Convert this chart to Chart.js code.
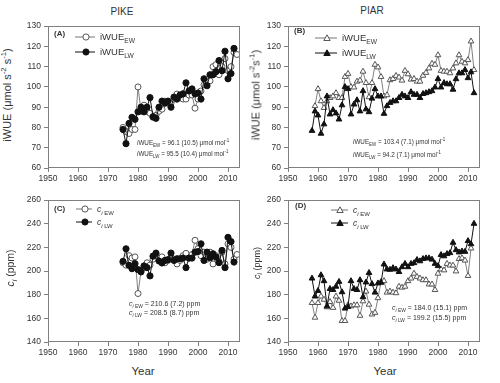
<!DOCTYPE html>
<html><head><meta charset="utf-8">
<script src="https://cdn.jsdelivr.net/npm/chart.js@4.4.1/dist/chart.umd.min.js"></script>
<style>
html,body{margin:0;padding:0;background:#fff;}
#wrap{position:relative;width:500px;height:383px;overflow:hidden;font-family:"Liberation Sans",Arial,sans-serif;color:#333;}
canvas{position:absolute;}
.t{position:absolute;white-space:nowrap;line-height:1;}
.rot{transform:translate(-50%,-50%) rotate(-90deg);}
.ctr{transform:translate(-50%,-50%);}
.lg{position:absolute;white-space:nowrap;font-size:9.5px;line-height:10px;height:10px;}
.lg svg{vertical-align:top;margin-right:5px;}
sub,sup{font-size:70%;line-height:0;}
.ann{font-size:6.3px;}
</style></head>
<body><div id="wrap">
<canvas id="cA" width="230" height="170" style="left:18px;top:18px"></canvas>
<canvas id="cB" width="230" height="170" style="left:258px;top:18px"></canvas>
<canvas id="cC" width="230" height="170" style="left:18px;top:192px"></canvas>
<canvas id="cD" width="230" height="170" style="left:258px;top:192px"></canvas>

<div class="t ctr" style="left:122px;top:12px;font-size:10px">PIKE</div>
<div class="t ctr" style="left:372px;top:11px;font-size:10px">PIAR</div>
<div class="t ctr" style="left:143px;top:372px;font-size:11.5px">Year</div>
<div class="t ctr" style="left:385px;top:372px;font-size:11.5px">Year</div>

<div class="t rot" style="left:7px;top:95px;font-size:11px">iWUE (μmol s<sup>-2</sup> s<sup>-1</sup>)</div>
<div class="t rot" style="left:256px;top:95px;font-size:11px">iWUE (μmol s<sup>-2</sup>s<sup>-1</sup>)</div>
<div class="t rot" style="left:10px;top:268px;font-size:10.5px"><i>c</i><sub><i>i</i></sub> (ppm)</div>
<div class="t rot" style="left:257px;top:263px;font-size:9px"><i>c</i><sub><i>i</i></sub> (ppm)</div>

<div class="t" style="left:54px;top:30px;font-size:8px;font-weight:bold">(A)</div>
<div class="t" style="left:294px;top:27px;font-size:8px;font-weight:bold">(B)</div>
<div class="t" style="left:54px;top:205px;font-size:8px;font-weight:bold">(C)</div>
<div class="t" style="left:295px;top:202px;font-size:8px;font-weight:bold">(D)</div>

<!-- legends -->
<div class="lg" style="left:75px;top:32px"><svg width="20" height="10"><line x1="0" y1="5" x2="20" y2="5" stroke="#777" stroke-width="1"/><circle cx="11" cy="5" r="3.1" fill="#fff" stroke="#555"/></svg><span>iWUE<sub>EW</sub></span></div>
<div class="lg" style="left:75px;top:47px"><svg width="20" height="10"><line x1="0" y1="5" x2="20" y2="5" stroke="#111" stroke-width="1"/><circle cx="11" cy="5" r="3.1" fill="#111" stroke="#111"/></svg><span>iWUE<sub>LW</sub></span></div>
<div class="lg" style="left:315px;top:33px"><svg width="22" height="10"><line x1="0" y1="5" x2="22" y2="5" stroke="#777" stroke-width="1"/><polygon points="12,1.8 15.2,7.5 8.8,7.5" fill="#fff" stroke="#555"/></svg><span>iWUE<sub>EW</sub></span></div>
<div class="lg" style="left:315px;top:48px"><svg width="22" height="10"><line x1="0" y1="5" x2="22" y2="5" stroke="#111" stroke-width="1"/><polygon points="12,1.8 15.2,7.5 8.8,7.5" fill="#111" stroke="#111"/></svg><span>iWUE<sub>LW</sub></span></div>
<div class="lg" style="left:76px;top:204px;font-size:8.5px"><svg width="16" height="10"><line x1="0" y1="5" x2="16" y2="5" stroke="#777" stroke-width="1"/><circle cx="9" cy="5" r="3.1" fill="#fff" stroke="#555"/></svg><span><i>c</i><sub><i>i</i> EW</sub></span></div>
<div class="lg" style="left:76px;top:217px;font-size:8.5px"><svg width="16" height="10"><line x1="0" y1="5" x2="16" y2="5" stroke="#111" stroke-width="1"/><circle cx="9" cy="5" r="3.1" fill="#111" stroke="#111"/></svg><span><i>c</i><sub><i>i</i> LW</sub></span></div>
<div class="lg" style="left:331px;top:205px;font-size:8.5px"><svg width="17" height="10"><line x1="0" y1="5" x2="17" y2="5" stroke="#777" stroke-width="1"/><polygon points="9,1.8 12.2,7.5 5.8,7.5" fill="#fff" stroke="#555"/></svg><span><i>c</i><sub><i>i</i> EW</sub></span></div>
<div class="lg" style="left:331px;top:218px;font-size:8.5px"><svg width="17" height="10"><line x1="0" y1="5" x2="17" y2="5" stroke="#111" stroke-width="1"/><polygon points="9,1.8 12.2,7.5 5.8,7.5" fill="#111" stroke="#111"/></svg><span><i>c</i><sub><i>i</i> LW</sub></span></div>

<!-- annotations -->
<div class="t ann" style="left:137px;top:140px"><i>i</i>WUE<sub>EW</sub> = 96.1 (10.5) μmol mol<sup>-1</sup></div>
<div class="t ann" style="left:137px;top:151px"><i>i</i>WUE<sub>LW</sub> = 95.5 (10.4) μmol mol<sup>-1</sup></div>
<div class="t ann" style="left:353px;top:139px"><i>i</i>WUE<sub>EW</sub> = 103.4 (7.1) μmol mol<sup>-1</sup></div>
<div class="t ann" style="left:353px;top:152px"><i>i</i>WUE<sub>LW</sub> = 94.2 (7.1) μmol mol<sup>-1</sup></div>
<div class="t ann" style="left:129px;top:300px;font-size:7px"><i>c</i><sub><i>i</i> EW</sub> = 210.6 (7.2) ppm</div>
<div class="t ann" style="left:129px;top:309px;font-size:7px"><i>c</i><sub><i>i</i> LW</sub> = 208.5 (8.7) ppm</div>
<div class="t ann" style="left:392px;top:304px;font-size:7px"><i>c</i><sub><i>i</i> EW</sub> = 184.0 (15.1) ppm</div>
<div class="t ann" style="left:392px;top:314px;font-size:7px"><i>c</i><sub><i>i</i> LW</sub> = 199.2 (15.5) ppm</div>
</div>
<script>
// ---- data ----
const pikeYears = [1975,1976,1977,1978,1979,1980,1981,1982,1983,1984,1985,1986,1987,1988,1989,1990,1991,1992,1993,1994,1995,1996,1997,1998,1999,2000,2001,2002,2003,2004,2005,2006,2007,2008,2009,2010,2011,2012,2013];
const piarYears = [1958,1959,1960,1961,1962,1963,1964,1965,1966,1967,1968,1969,1970,1971,1972,1973,1974,1975,1976,1977,1978,1979,1980,1981,1982,1983,1984,1985,1986,1987,1988,1989,1990,1991,1992,1993,1994,1995,1996,1997,1998,1999,2000,2001,2002,2003,2004,2005,2006,2007,2008,2009,2010,2011,2012];

// PIKE iWUE (EW 1975-2013, LW 1975-2012)
const pikeIwueEW = [80,78,77,79,79,100,88,91,88,87,85,86,88,89,93,92,92,94,96.5,95,94,94,96,96,89.5,94,98,101,102,103,110,111,106,110,114,108,110,117,116];
const pikeIwueLW = [79,72,82,85,84,87.7,90,87.7,90,94.7,85.3,84.5,90,93,92,93,90,95,94,96,96.6,102,98,99,96.6,97,94,104,100.6,106,106,107.5,113,108,117.6,104,106.6,119];
// PIAR iWUE (EW 1959-2012, LW 1958-2012)
const piarIwueEW = [90.6,99,93,89.7,93,94.6,95.4,97,94.6,94.6,105,106.5,100,99.8,102.7,103.2,107.6,102,95,102,111,109.7,105,95.4,96,103.4,104,105.5,104.7,103.2,108,106.3,103.7,104,102.7,102.7,105.6,107,109.2,111.5,111,115.7,108,107.6,107.6,106.8,109.2,111.7,115.7,112.5,111.7,113.3,122.5,108.4];
const piarIwueLW = [78.4,88,86,77,81.6,95.4,86.5,88.6,87,84,91,100,99,86.5,91.4,93.5,88,98,89,87.6,94.3,99,95.4,95.4,86.8,90.6,92.2,93,93,94.6,96.2,95.4,94.6,97.5,96.2,96.2,94.6,96.6,97,97.5,98,99.8,104,99.8,102,101.4,101.4,98.7,103.9,106.8,106.8,108.4,104.4,107.3,97];
// PIKE ci (EW 1975-2013, LW 1975-2012)
const pikeCiEW = [207,205,213,211,212,181,200,203,207,205,210,214,209,212,207,209,212,210,206,209,213,215,211,214,226,219,213,216,210,216,206,213,208,216,206,223,220,210,214];
const pikeCiLW = [208.2,218.8,204.8,202,206.2,201.2,199.3,204.3,202.9,195.9,212.6,215.2,208.5,206.8,209,209.6,215.2,209,210.4,210.4,211,202.9,211,211,216,216.5,223,209,216,211.3,214.6,211.8,207.1,217.4,202.9,228.5,224.9,207.6];
// PIAR ci (EW 1958-2011, LW 1958-2012)
const piarCiEW = [173.1,160.7,173.1,178.6,175.9,169.5,174,169,178.6,175,157.9,157.9,171.2,170.3,171.2,171.2,162.3,174.5,182.8,171.7,163.4,164.8,177.2,191,191.6,181.9,182.8,181.9,181.4,186.9,186.1,186.9,191.6,193.8,197.9,195.2,193.8,192.4,192.4,188.8,188.8,184.1,197.9,201.5,200.7,206.2,204.8,204.8,199.8,210.3,210.9,209,196,219.2];
const piarCiLW = [193.8,178.6,183.3,196.6,191.6,170.3,185,184.1,186.9,191,182.2,168.4,169.8,191.6,185,184.1,192.4,178,190.5,198.5,189.1,181.9,189.7,190.2,205.7,201.5,201.2,202.6,201.5,199.3,203.4,206.2,203.4,206.2,206.8,209.5,208.4,210.3,210.9,210.9,209.8,206.2,204.3,213.7,212.6,214.5,215.3,224.1,217.8,215.9,216.7,216.4,225.5,222.8,240.1];

const xTicks = [1950,1960,1970,1980,1990,2000,2010];

// ---- helpers ----
function pts(years, vals, offset){ return vals.map((v,i)=>({x:years[i+offset], y:v})); }

const framePlugin = {
  id:'frame',
  afterDraw(chart){
    const a = chart.chartArea, c = chart.ctx;
    c.save(); c.strokeStyle='#808080'; c.lineWidth=1;
    c.strokeRect(Math.round(a.left)+0.5, Math.round(a.top)+0.5, Math.round(a.right-a.left)-1, Math.round(a.bottom-a.top)-1);
    c.restore();
  }
};

function ewSet(data, style){
  return {data, showLine:true, borderColor:'#808080', borderWidth:1, pointStyle:style,
    pointRadius: style==='circle'?3:3.3, pointBackgroundColor:'#fff', pointBorderColor:'#555', pointBorderWidth:1, order:1};
}
function lwSet(data, style){
  return {data, showLine:true, borderColor:'#111', borderWidth:1, pointStyle:style,
    pointRadius: style==='circle'?3.1:3.3, pointBackgroundColor:'#111', pointBorderColor:'#111', pointBorderWidth:1, order:0};
}

function make(id, datasets, ymin, ymax, ystep){
  new Chart(document.getElementById(id), {
    type:'scatter',
    data:{datasets},
    plugins:[framePlugin],
    options:{
      responsive:false, animation:false, devicePixelRatio:1,
      layout:{padding:{top:6,right:8,left:0,bottom:0}},
      plugins:{legend:{display:false}, tooltip:{enabled:false}},
      elements:{line:{tension:0}},
      scales:{
        x:{type:'linear', min:1950, max:2014,
           afterBuildTicks(s){ s.ticks = xTicks.map(v=>({value:v})); },
           afterFit(s){ s.height = 20; },
           border:{display:false},
           grid:{drawOnChartArea:false, drawTicks:true, tickLength:4, color:'#808080'},
           ticks:{color:'#333', font:{family:'Liberation Sans', size:8.5}, padding:2, maxRotation:0, autoSkip:false,
                  callback:(v)=>String(v)}},
        y:{type:'linear', min:ymin, max:ymax,
           ticks:{stepSize:ystep, color:'#333', font:{family:'Liberation Sans', size:8.5}, padding:3},
           afterFit(s){ s.width = 30; },
           border:{display:false},
           grid:{drawOnChartArea:false, drawTicks:true, tickLength:4, color:'#808080'}}
      }
    }
  });
}

make('cA', [ewSet(pts(pikeYears,pikeIwueEW,0),'circle'), lwSet(pts(pikeYears,pikeIwueLW,0),'circle')], 60, 130, 10);
make('cB', [ewSet(pts(piarYears,piarIwueEW,1),'triangle'), lwSet(pts(piarYears,piarIwueLW,0),'triangle')], 60, 130, 10);
make('cC', [ewSet(pts(pikeYears,pikeCiEW,0),'circle'), lwSet(pts(pikeYears,pikeCiLW,0),'circle')], 140, 260, 20);
make('cD', [ewSet(pts(piarYears,piarCiEW,0),'triangle'), lwSet(pts(piarYears,piarCiLW,0),'triangle')], 140, 260, 20);
</script>
</body></html>
